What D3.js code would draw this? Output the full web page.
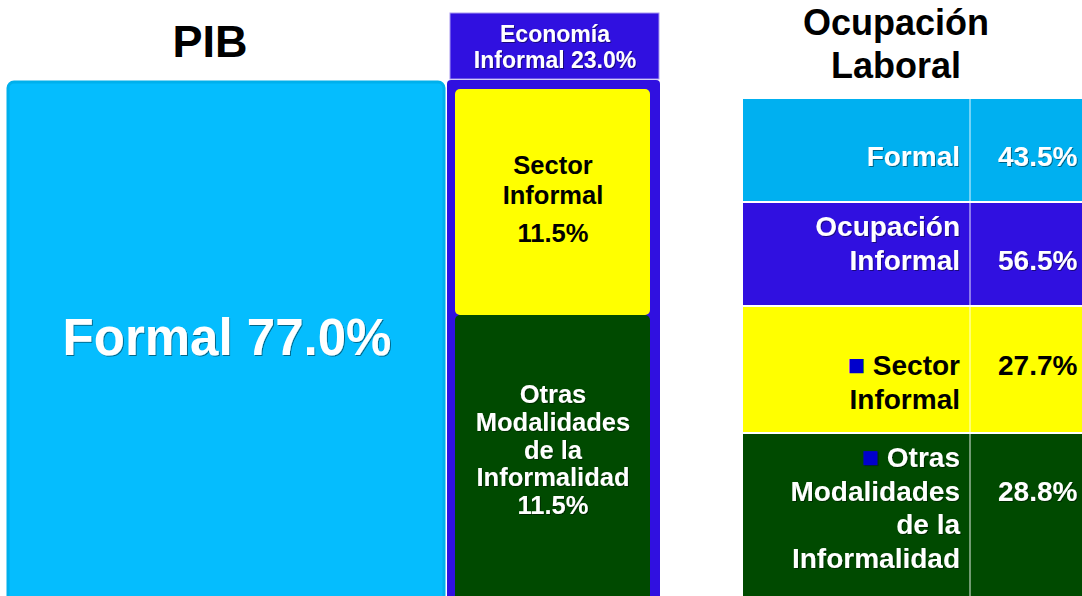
<!DOCTYPE html>
<html>
<head>
<meta charset="utf-8">
<script src="https://cdn.jsdelivr.net/npm/d3@7"></script>
<style>
  html, body { margin: 0; padding: 0; background: #fff; }
  svg { display: block; }
  text { font-family: "Liberation Sans", Arial, sans-serif; font-weight: bold; }
</style>
</head>
<body>
<svg id="chart"></svg>
<script>
// ======================
// DATA
// ======================

const pibCategories = ["Formal", "Sector Informal", "Otras Modalidades de la Informalidad"];
const pibValues = [77.0, 11.5, 11.5];
const informalTotal = 23.0;

const ocupCategories = ["Formal", "Ocupación Informal", "Sector Informal", "Otras Modalidades de la Informalidad"];
const ocupValues = [43.5, 56.5, 27.7, 28.8];
const ocupLines = [["Formal"], ["Ocupación", "Informal"], ["Sector", "Informal"], ["Otras", "Modalidades", "de la", "Informalidad"]];
const ocupBullet = [false, false, true, true];

// ======================
// SETUP
// ======================

const width = 1082;
const height = 596;
const svg = d3.select("#chart").attr("width", width).attr("height", height);

// soft shadow under white text
svg.append("defs").append("filter")
    .attr("id", "shadow")
    .attr("x", "-5%").attr("y", "-20%").attr("width", "110%").attr("height", "140%")
    .append("feDropShadow")
    .attr("dx", 1).attr("dy", 1).attr("stdDeviation", 0.6)
    .attr("flood-color", "#000").attr("flood-opacity", 0.45);

const cyan = "#05bdfe";
const blue = "#3010e0";
const yellow = "#ffff00";
const green = "#004a00";
const fmt = d => d.toFixed(1) + "%";

// ======================
// PIB BLOCK
// ======================

// horizontal split: formal vs informal
const pibX = d3.scaleLinear().domain([0, pibValues[0], 100]).range([8, 446, 660]);
// vertical stack inside the informal column
const infY = d3.scaleLinear().domain([0, pibValues[1], informalTotal]).range([89, 315, 640]);

svg.append("text")
    .attr("x", 210).attr("y", 57)
    .attr("text-anchor", "middle")
    .attr("font-size", 45)
    .attr("fill", "#000")
    .text("PIB");

svg.append("rect")
    .attr("x", pibX(0)).attr("y", 82)
    .attr("width", pibX(pibValues[0]) - pibX(0) - 2)
    .attr("height", 600)
    .attr("rx", 6)
    .attr("fill", cyan)
    .attr("stroke", "#00b0ec")
    .attr("stroke-width", 3);

svg.append("text")
    .attr("x", (pibX(0) + pibX(pibValues[0])) / 2)
    .attr("y", 355)
    .attr("text-anchor", "middle")
    .attr("font-size", 51)
    .attr("fill", "#fff")
    .attr("filter", "url(#shadow)")
    .text(`${pibCategories[0]} ${fmt(pibValues[0])}`);

// informal header
svg.append("rect")
    .attr("x", 450).attr("y", 13)
    .attr("width", 209).attr("height", 66)
    .attr("fill", blue)
    .attr("stroke", "#a898f0")
    .attr("stroke-width", 1);

svg.append("text")
    .attr("text-anchor", "middle")
    .attr("font-size", 23)
    .attr("fill", "#fff")
    .attr("filter", "url(#shadow)")
    .selectAll("tspan")
    .data(["Economía", `Informal ${fmt(informalTotal)}`])
    .join("tspan")
    .attr("x", 555)
    .attr("y", (d, i) => 42 + i * 26)
    .text(d => d);

// informal frame
svg.append("rect")
    .attr("x", pibX(pibValues[0]) + 1).attr("y", 80)
    .attr("width", pibX(100) - pibX(pibValues[0]) - 1)
    .attr("height", 600)
    .attr("rx", 4)
    .attr("fill", blue);

const inner = [
    { name: pibCategories[1], v0: 0, v1: pibValues[1], fill: yellow, color: "#000",
      lines: ["Sector", "Informal"], y0: 174, step: 30, valueGap: 38 },
    { name: pibCategories[2], v0: pibValues[1], v1: informalTotal, fill: green, color: "#fff",
      lines: ["Otras", "Modalidades", "de la", "Informalidad"], y0: 403, step: 27.8, valueGap: 27.8 }
];
const innerVals = [pibValues[1], pibValues[2]];

svg.selectAll("rect.inner")
    .data(inner)
    .join("rect")
    .attr("class", "inner")
    .attr("x", 455)
    .attr("y", d => infY(d.v0))
    .attr("width", 195)
    .attr("height", d => infY(d.v1) - infY(d.v0))
    .attr("rx", 5)
    .attr("fill", d => d.fill);

inner.forEach((d, k) => {
    const t = svg.append("text")
        .attr("text-anchor", "middle")
        .attr("font-size", 25.5)
        .attr("fill", d.color);
    if (d.color === "#fff") t.attr("filter", "url(#shadow)");
    d.lines.forEach((line, i) => {
        t.append("tspan").attr("x", 553).attr("y", d.y0 + i * d.step).text(line);
    });
    t.append("tspan")
        .attr("x", 553)
        .attr("y", d.y0 + (d.lines.length - 1) * d.step + d.valueGap)
        .text(fmt(innerVals[k]));
});

// ======================
// OCUPACION LABORAL TABLE
// ======================

svg.append("text")
    .attr("text-anchor", "middle")
    .attr("font-size", 36)
    .attr("fill", "#000")
    .selectAll("tspan")
    .data(["Ocupación", "Laboral"])
    .join("tspan")
    .attr("x", 896)
    .attr("y", (d, i) => 35 + i * 43)
    .text(d => d);

const rowY = d3.scaleOrdinal().domain(ocupCategories).range([99, 203, 307, 434]);
const rowBottom = d3.scaleOrdinal().domain(ocupCategories).range([201, 305, 432, 640]);
const rowFill = d3.scaleOrdinal().domain(ocupCategories).range(["#00b0f0", blue, yellow, green]);
const rowText = d3.scaleOrdinal().domain(ocupCategories).range(["#fff", "#fff", "#000", "#fff"]);
const firstLine = [67, 33, 68, 33];
const valueLine = [0, 1, 0, 1];
const lineH = 33.5;

const tableLeft = 743;
const colSplit = 970;
const tableRight = 1120;

const rows = svg.selectAll("g.row")
    .data(ocupCategories)
    .join("g")
    .attr("class", "row");

rows.append("rect")
    .attr("x", tableLeft)
    .attr("y", d => rowY(d))
    .attr("width", tableRight - tableLeft)
    .attr("height", d => rowBottom(d) - rowY(d))
    .attr("fill", d => rowFill(d));

// row separators
rows.filter((d, i) => i > 0)
    .append("line")
    .attr("x1", tableLeft).attr("x2", tableRight)
    .attr("y1", d => rowY(d) - 1).attr("y2", d => rowY(d) - 1)
    .attr("stroke", "#fff")
    .attr("stroke-width", 2);

// column divider
svg.append("line")
    .attr("x1", colSplit).attr("x2", colSplit)
    .attr("y1", rowY(ocupCategories[0])).attr("y2", height)
    .attr("stroke", "#ffffff")
    .attr("stroke-opacity", 0.6)
    .attr("stroke-width", 1.5);

rows.each(function (d, i) {
    const g = d3.select(this);
    const white = rowText(d) === "#fff";
    const t = g.append("text")
        .attr("text-anchor", "end")
        .attr("font-size", 28)
        .attr("fill", rowText(d));
    if (white) t.attr("filter", "url(#shadow)");
    ocupLines[i].forEach((line, j) => {
        const ts = t.append("tspan")
            .attr("x", 960)
            .attr("y", rowY(d) + firstLine[i] + j * lineH);
        if (j === 0 && ocupBullet[i]) {
            ts.append("tspan").attr("fill", "#0000cc").attr("font-size", 29).text("■");
            ts.append("tspan").text(" " + line);
        } else {
            ts.text(line);
        }
    });
    const v = g.append("text")
        .attr("x", 998)
        .attr("y", rowY(d) + firstLine[i] + valueLine[i] * lineH)
        .attr("font-size", 28)
        .attr("fill", rowText(d))
        .text(fmt(ocupValues[i]));
    if (white) v.attr("filter", "url(#shadow)");
});
</script>
</body>
</html>
